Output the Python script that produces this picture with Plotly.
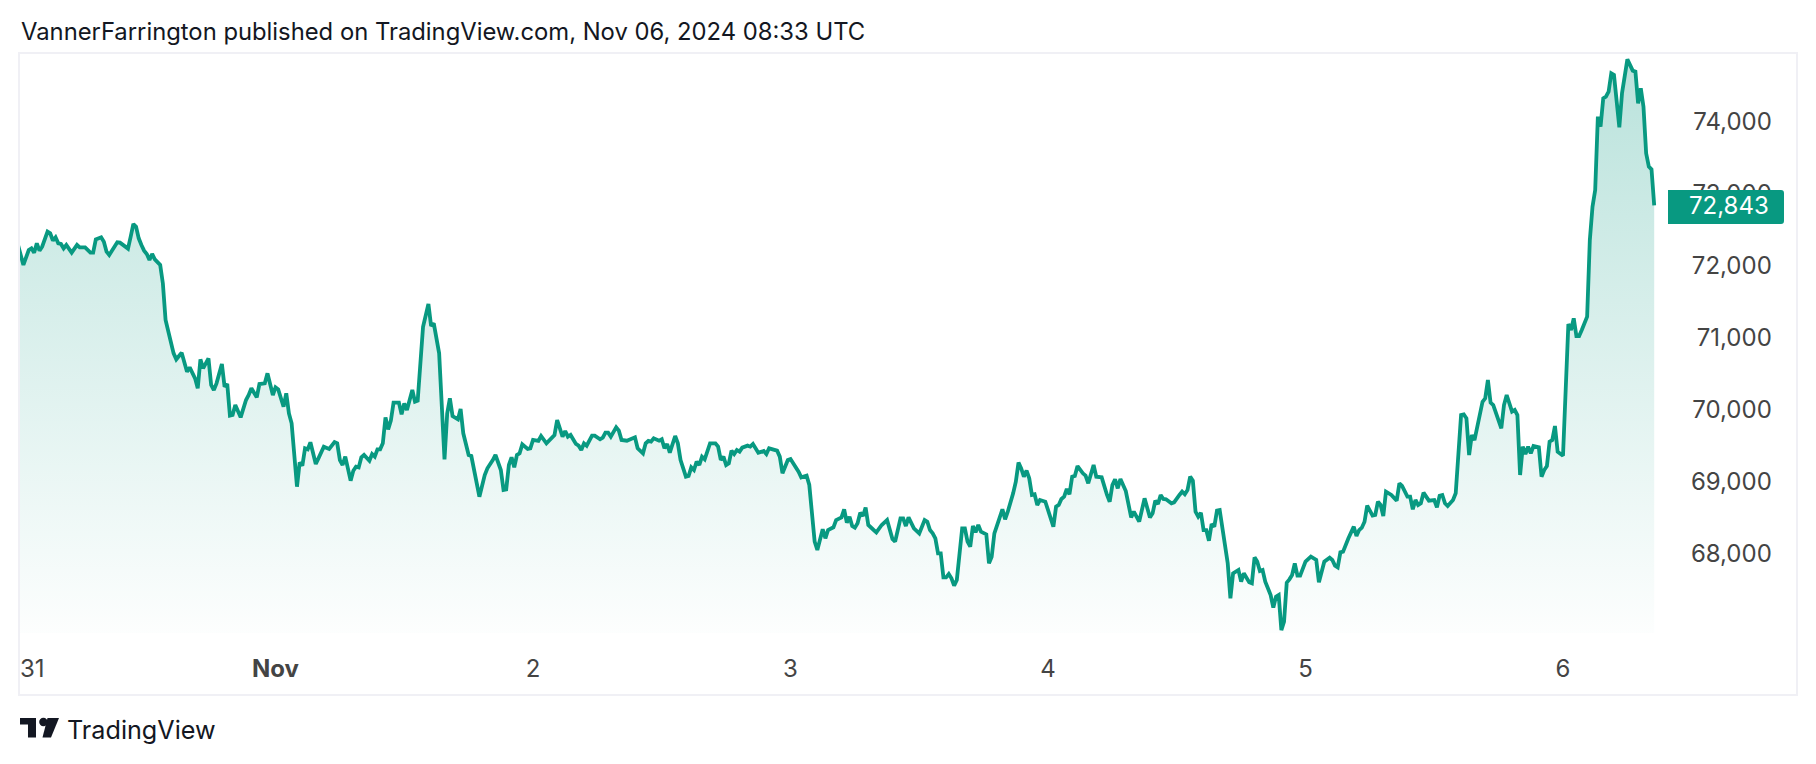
# BTC/USD 15 min line chart, TradingView snapshot style
import pandas as pd
import plotly.graph_objects as go

W, H = 1816, 764
LEFT, RIGHT, TOP, BOTTOM = 20, 1796, 54, 694

TEAL = '#089981'
INK = '#131722'
FRAME = '#F0F0F5'
FONT = 'Inter'

title_text = 'VannerFarrington published on TradingView.com, Nov 06, 2024 08:33 UTC'
logo_text = 'TradingView'

# bar number (15 minute bars counted from Oct 31 00:00) and close
bars = [
    0, 2, 4, 5, 6, 7, 8, 9, 11, 12, 13, 14, 15, 16, 17, 18, 20, 22, 23, 25, 27, 28, 29, 31, 32, 33, 34, 37, 38, 41,
    42, 43, 44, 45, 46, 47, 48, 49, 50, 51, 53, 54, 55, 57, 58, 59, 61, 63, 64, 66, 67, 68, 69, 71, 72, 73, 74, 76,
    77, 78, 79, 80, 81, 83, 85, 86, 87, 89, 90, 92, 93, 95, 96, 97, 99, 100, 101, 102, 104, 105, 106, 107, 108, 109,
    111, 112, 114, 116, 118, 119, 120, 121, 122, 124, 125, 126, 127, 128, 129, 131, 132, 133, 134, 135, 136, 137,
    138, 139, 140, 142, 143, 144, 145, 147, 148, 149, 151, 153, 154, 155, 157, 159, 160, 161, 162, 164, 165, 166,
    168, 169, 170, 172, 174, 175, 177, 178, 180, 181, 182, 183, 184, 185, 186, 187, 188, 190, 191, 192, 194, 195,
    197, 199, 200, 201, 203, 204, 205, 206, 208, 209, 210, 211, 212, 214, 215, 217, 218, 219, 220, 221, 223, 224,
    225, 227, 230, 231, 233, 234, 235, 236, 237, 239, 240, 241, 242, 243, 245, 246, 247, 249, 250, 251, 252, 253,
    254, 255, 256, 258, 260, 261, 262, 263, 264, 265, 266, 267, 268, 269, 270, 272, 273, 274, 276, 278, 279, 280,
    283, 284, 285, 287, 288, 291, 292, 294, 295, 297, 298, 300, 301, 302, 304, 305, 307, 308, 309, 310, 311, 312,
    313, 314, 315, 316, 317, 319, 320, 322, 324, 326, 327, 329, 330, 331, 332, 334, 336, 338, 339, 340, 341, 342,
    343, 344, 345, 346, 347, 348, 349, 350, 352, 353, 354, 355, 356, 357, 358, 359, 361, 362, 363, 364, 365, 366,
    367, 368, 369, 371, 372, 373, 374, 375, 376, 377, 378, 379, 380, 381, 383, 386, 387, 388, 389, 390, 391, 392,
    393, 394, 395, 397, 398, 399, 401, 402, 404, 406, 407, 408, 409, 410, 411, 413, 415, 416, 418, 420, 422, 423,
    424, 425, 426, 427, 428, 430, 431, 433, 434, 435, 436, 437, 438, 439, 440, 441, 442, 443, 444, 445, 446, 447,
    448, 451, 452, 453, 455, 456, 457, 459, 460, 461, 462, 463, 464, 465, 466, 467, 468, 469, 470, 471, 472, 473,
    474, 475, 476, 477, 478, 480, 482, 484, 485, 487, 489, 490, 491, 492, 493, 494, 496, 497, 498, 499, 500, 501,
    502, 503, 505, 506, 507, 508, 509, 510, 512, 514, 515, 516, 518, 519, 520, 521, 522, 523, 524, 526, 528, 529,
    530, 531, 532, 533, 535, 536, 538, 539, 540, 541, 542, 543, 546, 547, 548, 549, 550, 553, 554, 555, 557, 558,
    559, 560, 561, 562, 563, 564, 565, 567, 568, 569, 570, 571, 572, 573, 574, 576, 577, 578, 579, 580, 581, 582,
    583, 585, 586, 587, 588, 589, 590, 591, 592, 593, 594, 595, 597, 598, 600, 602, 603, 604, 605, 606, 607, 608,
    609, 610,
]
closes = [
    72292, 72014, 72222, 72245, 72185, 72315, 72213, 72268, 72477, 72454, 72352, 72398, 72315, 72306, 72245, 72292,
    72185, 72292, 72259, 72259, 72185, 72185, 72370, 72398, 72338, 72199, 72153, 72329, 72324, 72241,
    72407, 72583, 72546, 72384, 72292, 72213, 72167, 72083, 72167, 72093, 72014, 71759, 71250, 70972, 70787, 70704,
    70796, 70532, 70592, 70440, 70301, 70704, 70579, 70717, 70347, 70278, 70370, 70639,
    70324, 70361, 69921, 69930, 70069, 69898, 70139, 70208, 70301, 70176, 70361, 70370, 70509, 70208, 70315, 70287,
    70046, 70231, 69953, 69815, 68935, 69273, 69227, 69467, 69453, 69551,
    69250, 69328, 69490, 69458, 69555, 69537, 69305, 69236, 69352, 69018, 69157, 69213, 69203, 69342, 69375, 69296,
    69389, 69352, 69453, 69453, 69537, 69898,
    69731, 69852, 70102, 70102, 69940, 70092, 70000, 70278, 70116, 70129, 71157, 71472, 71167, 71204, 70787, 69315,
    69953, 70162, 69916, 69870, 70014, 69676,
    69375, 69361, 69166, 68796, 69097, 69190, 69305, 69375, 69167, 68889, 68898, 69236, 69343, 69204, 69375, 69398,
    69523, 69459, 69468, 69584, 69570, 69639,
    69537, 69616, 69653, 69861, 69630, 69709, 69630, 69653, 69528, 69505, 69445, 69537, 69505, 69644, 69644, 69593,
    69616, 69685, 69685, 69630, 69760, 69713,
    69584, 69574, 69621, 69468, 69398, 69537, 69570, 69560, 69607, 69574, 69593, 69468, 69528, 69408, 69639, 69537,
    69306, 69074, 69084, 69204, 69167, 69283,
    69236, 69352, 69315, 69537, 69537, 69491, 69306, 69352, 69236, 69260, 69435, 69389, 69445, 69422, 69477, 69505,
    69491, 69528, 69408, 69431, 69389, 69468,
    69435, 69352, 69121, 69306, 69320, 69144, 69065, 69088, 68959, 68171, 68056, 68343, 68218, 68334, 68371, 68472,
    68509, 68621, 68435, 68519, 68389, 68366,
    68426, 68574, 68528, 68644, 68403, 68334, 68301, 68403, 68472, 68209, 68171, 68496, 68496, 68389, 68509, 68357,
    68287, 68472, 68449, 68333, 68287, 68218,
    68009, 68009, 67676, 67676, 67722, 67662, 67560, 67639, 68356, 68356, 68171, 68102, 68389, 68301, 68403, 68310,
    68273, 67870, 67963, 68287, 68400, 68540,
    68621, 68482, 68588, 68843, 69005, 69269, 69190, 69074, 69158, 69051, 68820, 68829, 68681, 68750, 68727, 68380,
    68658, 68681, 68764, 68797, 68903, 68829,
    69074, 69084, 69222, 69121, 69088, 68982, 69236, 69074, 69065, 68820, 68727, 68959, 69037, 68912, 69042, 68875,
    68509, 68588, 68449, 68773, 68509, 68565,
    68741, 68695, 68820, 68764, 68760, 68704, 68718, 68820, 68866, 68829, 68889, 69074, 69019, 68588, 68519, 68574,
    68333, 68333, 68185, 68417, 68380, 68602,
    68611, 67871, 67384, 67732, 67778, 67616, 67732, 67607, 67593, 67954, 67894, 67764, 67778, 67616, 67537, 67431,
    67255, 67407, 67431, 66944, 67060, 67602,
    67648, 67708, 67871, 67699, 67699, 67894, 67963, 67917, 67607, 67894, 67949, 67917, 67838, 67815, 68023, 68033,
    68218, 68310, 68380, 68250, 68333, 68366,
    68449, 68672, 68533, 68542, 68727, 68681, 68528, 68866, 68820, 68741, 68982, 68945, 68797, 68797, 68621, 68750,
    68681, 68704, 68852, 68741, 68750, 68648,
    68810, 68820, 68704, 68667, 68750, 68843, 69931, 69940, 69885, 69375, 69652, 69583, 70115, 70162, 70416, 70102,
    70069, 69745, 70069, 70208, 69977, 70000,
    69930, 69097, 69490, 69389, 69490, 69398, 69500, 69481, 69074, 69166, 69222, 69560, 69583, 69777, 69421, 69365,
    70200, 71194, 71111, 71273, 71027, 71027,
    71111, 71296, 72361, 72824, 73055, 74074, 73935, 74329, 74352, 74421, 74676, 74653, 73926, 74398, 74870, 74713,
    74699, 74259, 74468, 74213, 73565, 73380,
    73342, 72843,
]

price_ticks = [68000, 69000, 70000, 71000, 72000, 73000, 74000]
day_labels = ['31', '<b>Nov</b>', '2', '3', '4', '5', '6']
day_ticks = ['2024-10-31 01:20', '2024-11-01', '2024-11-02', '2024-11-03', '2024-11-04', '2024-11-05', '2024-11-06']

times = pd.Timestamp('2024-10-31') + pd.to_timedelta(bars, unit='min') * 15
fade_floor = 66903


def fx(px):
    return (px - LEFT) / (RIGHT - LEFT)


def fy(py):
    return (BOTTOM - py) / (BOTTOM - TOP)


def paper_path(points, close=True):
    parts = [f'{c}{fx(x):.5f},{fy(y):.5f}' for c, x, y in points]
    return ' '.join(parts) + (' Z' if close else '')


fig = go.Figure()

# invisible floor that the area fades down to
fig.add_trace(go.Scatter(x=[times[0], times[-1]], y=[fade_floor, fade_floor], mode='lines',
                         line=dict(width=0), hoverinfo='skip', showlegend=False))
fig.add_trace(go.Scatter(x=times, y=closes, mode='lines', line=dict(color=TEAL, width=3.8),
                         fill='tonexty', showlegend=False,
                         fillgradient=dict(type='vertical', start=max(closes), stop=fade_floor,
                                           colorscale=[[0, 'rgba(8,153,129,0.28)'],
                                                       [1, 'rgba(8,153,129,0.01)']])))

# last price tag, right corners slightly rounded
tag = paper_path([('M', 1668, 190), ('L', 1781, 190), ('Q', 1784, 190), ('', 1784, 193), ('L', 1784, 221),
                  ('Q', 1784, 224), ('', 1781, 224), ('L', 1668, 224)])
# logo: T block, dot, slash
logo_t = paper_path([('M', 20, 718), ('L', 36, 718), ('L', 36, 737.5), ('L', 28, 737.5), ('L', 28, 724.5),
                     ('L', 20, 724.5)])
logo_slash = paper_path([('M', 47.5, 718), ('L', 59, 718), ('L', 51, 737.5), ('L', 42.5, 737.5)])
shapes = [
    dict(type='path', xref='paper', yref='paper', path=tag, fillcolor=TEAL, line_width=0, layer='above'),
    dict(type='path', xref='paper', yref='paper', path=logo_t, fillcolor=INK, line_width=0),
    dict(type='path', xref='paper', yref='paper', path=logo_slash, fillcolor=INK, line_width=0),
    dict(type='circle', xref='paper', yref='paper', x0=fx(39.2), x1=fx(47.6), y0=fy(726.2), y1=fy(717.8),
         fillcolor=INK, line_width=0),
]

annotations = [
    dict(text=title_text, xref='paper', yref='paper', x=fx(19), y=fy(32), xanchor='left', yanchor='middle',
         showarrow=False, font=dict(family=FONT, size=23.8, color=INK)),
    dict(text=logo_text, xref='paper', yref='paper', x=fx(64.5), y=fy(730), xanchor='left', yanchor='middle',
         showarrow=False, font=dict(family=FONT, size=25.2, color=INK)),
    dict(text=f'{closes[-1]:,}', xref='paper', yref='y', x=fx(1771), y=closes[-1], xanchor='right',
         yanchor='middle', showarrow=False, font=dict(family=FONT, size=24, color='#FFFFFF')),
]

fig.update_layout(
    width=W, height=H,
    margin=dict(l=LEFT, r=W - RIGHT, t=TOP, b=H - BOTTOM, pad=0),
    paper_bgcolor='white', plot_bgcolor='white',
    showlegend=False, shapes=shapes, annotations=annotations,
    font=dict(family=FONT, size=24, color=INK),
)
fig.update_xaxes(type='date', range=['2024-10-31 00:11', '2024-11-06 21:43'],
                 tickmode='array', tickvals=day_ticks, ticktext=day_labels, tickangle=0,
                 ticklabelposition='inside', ticklabelstandoff=14, ticks='',
                 showgrid=False, zeroline=False, showline=True, mirror=True, linecolor=FRAME, linewidth=2)
fig.update_yaxes(side='right', range=[66056, 74944], tickmode='array', tickvals=price_ticks,
                 tickformat=',d', ticklabelposition='inside', ticklabelstandoff=26, ticks='',
                 showgrid=False, zeroline=False, showline=True, mirror=True, linecolor=FRAME, linewidth=2)

fig.write_html('out.html', config={'displayModeBar': False},
               post_script="document.body.style.margin='0'")
